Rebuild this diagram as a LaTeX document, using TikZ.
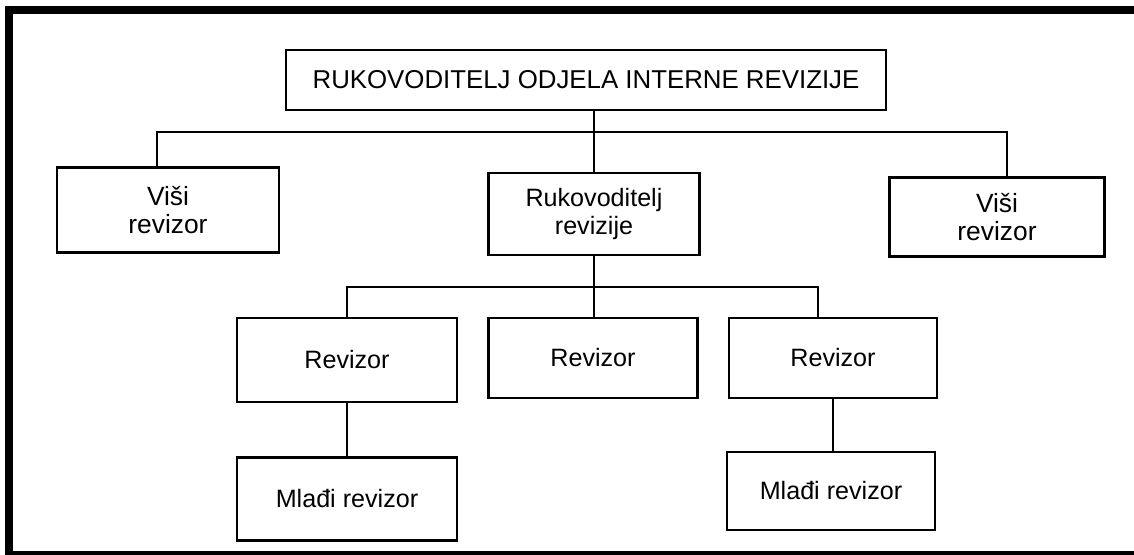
\documentclass[tikz,border=0pt]{standalone}
\usepackage{fontspec}
\setmainfont{Liberation Sans}
\usetikzlibrary{positioning}

\begin{document}
\begin{tikzpicture}[
    x=0.02cm, y=-0.02cm,
    unit/.style={rectangle, draw, line width=1.3pt, align=center, inner sep=0pt, font=\fontsize{14.3}{16}\selectfont},
    link/.style={line width=1.3pt}
]
    \useasboundingbox (0,0) rectangle (1134,555);
    % black frame
    \fill (5,6) rectangle (1134,14);
    \fill (5,6) rectangle (13,555);
    \fill (5,551) rectangle (1134,555);

    \node[unit, minimum width=12cm, minimum height=1.2cm, font=\fontsize{14.7}{17}\selectfont] (head) at (586,80) {RUKOVODITELJ ODJELA INTERNE REVIZIJE};
    \node[unit, minimum width=4.44cm, minimum height=1.7cm, font=\fontsize{15}{15.6}\selectfont] (visi1) at (168,210) {Viši\\revizor};
    \node[unit, minimum width=4.22cm, minimum height=1.64cm] (ruk) at (594,214) {Rukovoditelj\\revizije};
    \node[unit, minimum width=4.3cm, minimum height=1.58cm, font=\fontsize{15}{15.6}\selectfont] (visi2) at (997,217) {Viši\\revizor};

    \node[unit, minimum width=4.4cm, minimum height=1.68cm] (rev1) at (347,360) {Revizor};
    \node[unit, minimum width=4.18cm, minimum height=1.6cm] (rev2) at (593,358) {Revizor};
    \node[unit, minimum width=4.16cm, minimum height=1.6cm] (rev3) at (833,358) {Revizor};

    \node[unit, minimum width=4.4cm, minimum height=1.66cm] (mlad1) at (347,499) {Mlađi revizor};
    \node[unit, minimum width=4.16cm, minimum height=1.56cm] (mlad2) at (831,491) {Mlađi revizor};

    % connectors
    \coordinate (bus1) at (594,132);
    \coordinate (bus2) at (594,287);
    \draw[link] (ruk.north) -- (ruk.north |- head.south);
    \draw[link] ([xshift=-0.22cm]visi1.north) |- (bus1) -| ([xshift=0.2cm]visi2.north);
    \draw[link] (ruk.south) -- (ruk.south |- rev2.north);
    \draw[link] (rev1.north) |- (bus2) -| ([xshift=-0.3cm]rev3.north);
    \draw[link] (rev1.south) -- (mlad1.north);
    \draw[link] (rev3.south) -- (rev3.south |- mlad2.north);
\end{tikzpicture}
\end{document}
